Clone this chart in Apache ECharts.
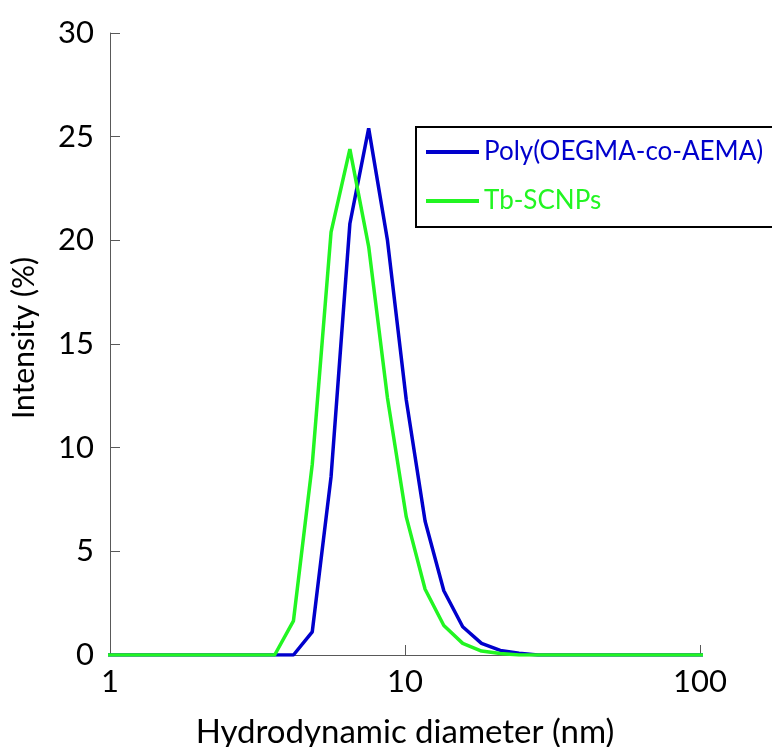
<!DOCTYPE html>
<html>
<head>
<meta charset="utf-8">
<script src="https://cdn.jsdelivr.net/npm/echarts@6/dist/echarts.min.js"></script>
<style>
  html, body { margin: 0; padding: 0; background: #fff; }
  #chart { width: 772px; height: 747px; }
</style>
</head>
<body>
<div id="chart"></div>
<script>
// DLS size bins (nm)
const sizes = [0.9649, 1.117, 1.294, 1.499, 1.736, 2.010, 2.328, 2.696, 3.122, 3.615,
  4.187, 4.849, 5.615, 6.503, 7.531, 8.721, 10.10, 11.70, 13.54, 15.69,
  18.17, 21.04, 24.36, 28.21, 32.67, 37.84, 43.82, 50.75, 58.77, 68.06,
  78.82, 91.28, 105.7];
// Intensity (%)
const polyIntensity = [0, 0, 0, 0, 0, 0, 0, 0, 0, 0,
  0, 1.12, 8.6, 20.8, 25.4, 20.0, 12.3, 6.45, 3.1, 1.36,
  0.56, 0.22, 0.08, 0, 0, 0, 0, 0, 0, 0,
  0, 0, 0];
const tbIntensity = [0, 0, 0, 0, 0, 0, 0, 0, 0, 0,
  1.65, 9.2, 20.4, 24.4, 19.7, 12.4, 6.66, 3.17, 1.42, 0.56,
  0.19, 0.07, 0, 0, 0, 0, 0, 0, 0, 0,
  0, 0, 0];
const seriesNames = ["Poly(OEGMA-co-AEMA)", "Tb-SCNPs"];
const seriesColors = ["#0000cc", "#22f522"];
const yName = "Intensity (%)";

const pairs = (ys) => sizes.map((x, i) => [x, ys[i]]);

const chart = echarts.init(document.getElementById("chart"));
const font = "Lato, 'Open Sans', sans-serif";
const axisColor = "#595959";

const option = {
  animation: false,
  textStyle: { fontFamily: font },
  grid: { left: 110, right: 72, top: 33, bottom: 92, outerBoundsMode: "none", containLabel: false },
  // legend frame runs past the right edge, as in the original
  graphic: [
    {
      type: "rect",
      x: 416, y: 127,
      shape: { width: 420, height: 100 },
      style: { fill: "none", stroke: "#000", lineWidth: 2 },
      z: 10,
    },
    {
      type: "text",
      x: 24, y: 338,
      rotation: Math.PI / 2,
      style: {
        text: yName,
        fill: "#000",
        font: "30px Lato, 'Open Sans', sans-serif",
        align: "center",
        verticalAlign: "middle",
      },
    },
  ],
  legend: {
    orient: "vertical",
    left: 426,
    top: 139,
    icon: "rect",
    itemWidth: 53,
    itemHeight: 4,
    itemGap: 23,
    padding: 0,
    data: seriesNames.map((n, i) => ({
      name: n,
      textStyle: { color: seriesColors[i] },
    })),
    textStyle: { fontFamily: font, fontSize: 26, lineHeight: 26 },
  },
  xAxis: {
    type: "log",
    logBase: 10,
    min: 1,
    max: 100,
    name: "Hydrodynamic diameter (nm)",
    nameLocation: "middle",
    nameGap: 61,
    nameTextStyle: { color: "#000", fontSize: 33, fontFamily: font },
    axisLine: { lineStyle: { color: axisColor, width: 1 } },
    axisTick: { inside: true, length: 10, lineStyle: { color: axisColor } },
    minorTick: { show: false },
    splitLine: { show: false },
    axisLabel: { color: "#000", fontSize: 31, margin: 11 },
  },
  yAxis: {
    type: "value",
    min: 0,
    max: 30,
    interval: 5,
    axisLine: { show: true, lineStyle: { color: axisColor, width: 1 } },
    axisTick: { show: true, inside: true, length: 10, lineStyle: { color: axisColor } },
    splitLine: { show: false },
    axisLabel: { color: "#000", fontSize: 31, margin: 16 },
  },
  series: [
    {
      name: seriesNames[0],
      type: "line",
      data: pairs(polyIntensity),
      showSymbol: false,
      clip: true,
      lineStyle: { color: seriesColors[0], width: 3.5 },
      itemStyle: { color: seriesColors[0] },
    },
    {
      name: seriesNames[1],
      type: "line",
      data: pairs(tbIntensity),
      showSymbol: false,
      clip: true,
      lineStyle: { color: seriesColors[1], width: 3.5 },
      itemStyle: { color: seriesColors[1] },
    },
  ],
};

chart.setOption(option);
</script>
</body>
</html>
